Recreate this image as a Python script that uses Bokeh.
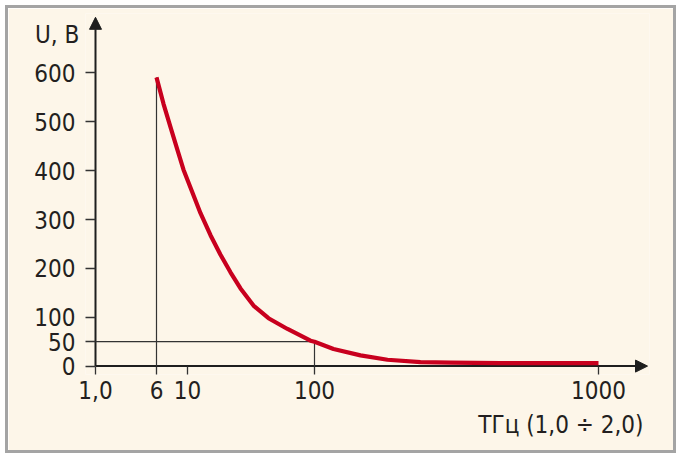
from bokeh.plotting import figure
from bokeh.models import Arrow, NormalHead, FixedTicker, Range1d, Title
from bokeh.embed import file_html
from bokeh.resources import INLINE

# ---- data ----
# x positions are along the drawn (non-uniform) frequency axis
x_tick_pos = [0, 61, 92, 219, 503]
x_tick_labels = ["1,0", "6", "10", "100", "1000"]
y_ticks = [0, 50, 100, 200, 300, 400, 500, 600]

curve_x = [61, 68, 75, 82, 88, 97, 105, 115, 125, 135, 145, 158, 173, 192, 215, 219,
           238, 265, 292, 325, 355, 405, 503]
curve_u = [591, 537, 489, 442, 402, 355, 313, 268, 228, 192, 159, 124, 98, 76, 52, 50,
           35, 22, 13, 8, 7, 6, 6]

ref_f6_x, ref_f6_u = 61, 591
ref_f100_x, ref_u50 = 219, 50
x_axis_end, y_axis_end = 552, 714

x_title = "ТГц (1,0 ÷ 2,0)"
y_title = "U, В"

FONT = "Liberation Sans Narrow, DejaVu Sans Condensed, Roboto Condensed, Liberation Sans, sans-serif"
TXT = "#231f20"
BG = "#fdf6e9"
AX = "#1e1e1e"

p = figure(width=665, height=442, output_backend="svg", toolbar_location=None,
           x_range=Range1d(-10, 554), y_range=Range1d(-17.2, 721.8),
           min_border_left=77, min_border_right=24, min_border_top=5, min_border_bottom=76)
p.margin = (8, 8, 8, 8)
p.styles = {"outline": "3px solid #a4a4a4"}
p.background_fill_color = BG
p.border_fill_color = BG
p.outline_line_color = None
p.grid.visible = False

for ax in (p.xaxis[0], p.yaxis[0]):
    ax.axis_line_color = None
    ax.major_tick_out = 0
    ax.minor_tick_line_color = None
    ax.major_tick_line_color = "#333333"
    ax.major_tick_line_width = 1.3
    ax.major_label_text_font = FONT
    ax.major_label_text_font_size = "24px"
    ax.major_label_text_color = TXT

p.yaxis.ticker = FixedTicker(ticks=y_ticks)
p.yaxis.major_tick_in = 10
p.yaxis.major_label_standoff = 10
p.yaxis.axis_label = "\n" + y_title
p.yaxis.axis_label_orientation = "horizontal"
p.yaxis.axis_label_align = "end"
p.yaxis.axis_label_standoff = -48
p.yaxis.axis_label_text_font = FONT
p.yaxis.axis_label_text_font_size = "24px"
p.yaxis.axis_label_text_font_style = "normal"
p.yaxis.axis_label_text_color = TXT
p.yaxis.axis_label_text_line_height = 1.5

p.xaxis.ticker = FixedTicker(ticks=x_tick_pos)
p.xaxis.major_label_overrides = {k: v for k, v in zip(x_tick_pos, x_tick_labels)}
p.xaxis.major_tick_in = 8
p.xaxis.major_label_standoff = 6

p.add_layout(Title(text=x_title, align="right", offset=6, standoff=15,
                   text_font=FONT, text_font_size="24px", text_font_style="normal",
                   text_color=TXT), "below")

# reference lines
p.line([ref_f6_x, ref_f6_x], [0, ref_f6_u], line_color="#333333", line_width=1.2)
p.line([0, ref_f100_x], [ref_u50, ref_u50], line_color="#333333", line_width=1.2)
p.line([ref_f100_x, ref_f100_x], [0, ref_u50], line_color="#333333", line_width=1.2)

# curve
p.line(curve_x, curve_u, line_color="#c8001e", line_width=4.2, line_join="round")

# axes with arrows
p.add_layout(Arrow(end=NormalHead(size=12, fill_color=AX, line_color=AX),
                   x_start=0, y_start=0, x_end=0, y_end=y_axis_end,
                   line_width=2, line_color=AX, level="underlay"))
p.add_layout(Arrow(end=NormalHead(size=12, fill_color=AX, line_color=AX),
                   x_start=0, y_start=0, x_end=x_axis_end, y_end=0,
                   line_width=2, line_color=AX, level="underlay"))

open("out.html", "w").write(file_html(p, INLINE))
